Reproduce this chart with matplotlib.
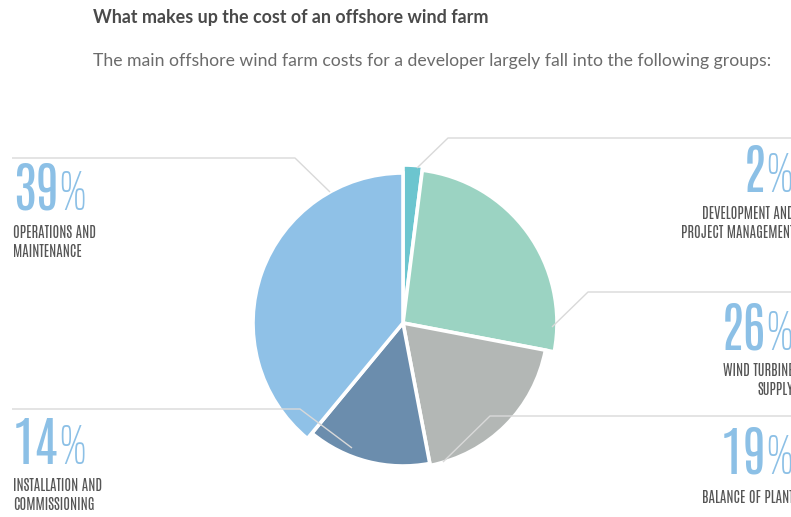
import matplotlib
matplotlib.use("Agg")
import matplotlib.pyplot as plt

# cost groups, clockwise from 12 o'clock
groups = ["DEVELOPMENT AND\nPROJECT MANAGEMENT", "WIND TURBINE\nSUPPLY", "BALANCE OF PLANT",
          "INSTALLATION AND\nCOMMISSIONING", "OPERATIONS AND\nMAINTENANCE"]
shares = [2, 26, 19, 14, 39]

colors = ["#6cc5cf", "#9bd3c2", "#b3b7b5", "#6b8dad", "#8fc1e7"]
radii = [158, 154, 145, 143, 150]

title = "What makes up the cost of an offshore wind farm"
subtitle = "The main offshore wind farm costs for a developer largely fall into the following groups:"

W, H = 791, 517
fig = plt.figure(figsize=(W / 100, H / 100), dpi=100)
ax = fig.add_axes([0, 0, 1, 1])

# y axis runs downwards, so counterclock=True reads clockwise on screen
wedges, _ = ax.pie(shares, colors=colors, startangle=-90, counterclock=True,
                   center=(403, 323), radius=150,
                   wedgeprops=dict(edgecolor="white", linewidth=2.6))
for w, r in zip(wedges, radii):
    w.set_radius(r)

ax.set_xlim(0, W)
ax.set_ylim(H, 0)
ax.set_aspect("auto")
ax.axis("off")

# leader lines
line_kw = dict(color="#d9d9d9", lw=1.0, zorder=3, solid_capstyle="butt")
leaders = [
    ([417, 448, 800], [168, 138, 138]),
    ([552, 588, 800], [327, 292, 292]),
    ([443, 490, 800], [462, 416, 416]),
    ([352, 300, 12], [448, 409, 409]),
    ([330, 295, 12], [192, 158, 158]),
]
for xs, ys in leaders:
    ax.plot(xs, ys, **line_kw)

ax.text(93, 23, title, fontsize=12.9, fontweight="bold", family="Lato",
        color="#4a4a4a", va="baseline")
ax.text(93, 66, subtitle, fontsize=12.7, family="Lato", color="#6b6b6b", va="baseline")

num_kw = dict(family="Antonio", fontweight="bold", fontsize=39, color="#8cc0e6",
              va="baseline")
pct_kw = dict(family="Saira ExtraCondensed", fontweight=200, fontsize=40,
              color="#8cc0e6", va="baseline")
lab_kw = dict(family="Antonio", fontweight="bold", fontsize=10.5, color="#555555",
              va="baseline")

fig.canvas.draw()
rend = fig.canvas.get_renderer()
inv = ax.transData.inverted()


def pct_label(x, y, value, side):
    if side == "left":
        t = ax.text(x, y, str(value), ha="left", **num_kw)
        x1 = inv.transform((t.get_window_extent(rend).x1, 0))[0]
        ax.text(x1, y, "%", ha="left", **pct_kw)
    else:
        p = ax.text(x, y, "%", ha="right", **pct_kw)
        x0 = inv.transform((p.get_window_extent(rend).x0, 0))[0]
        ax.text(x0, y, str(value), ha="right", **num_kw)


# (x, number baseline, label baseline, side)
spots = [
    (794, 192, 219, "right"),
    (794, 350, 376, "right"),
    (794, 474, 503, "right"),
    (13, 464, 491, "left"),
    (13, 210, 238, "left"),
]
for (x, yn, yl, side), val, name in zip(spots, shares, groups):
    pct_label(x, yn, val, side)
    for i, s in enumerate(name.split("\n")):
        ax.text(x, yl + i * 19, s, ha=side, **lab_kw)

fig.savefig("out.png", dpi=100)
